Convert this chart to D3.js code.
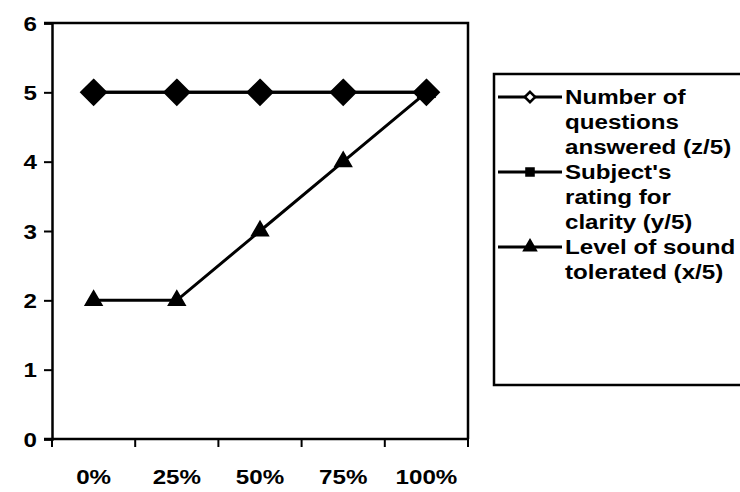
<!DOCTYPE html>
<html>
<head>
<meta charset="utf-8">
<script src="https://cdn.jsdelivr.net/npm/d3@7"></script>
<style>
  html, body { margin: 0; padding: 0; background: #fff; }
  svg text { font-family: "Liberation Sans", Arial, sans-serif; font-weight: bold; fill: #000; }
</style>
</head>
<body>
<svg id="chart" width="740" height="492"></svg>
<script>
// Categories along the x axis
const categories = ["0%", "25%", "50%", "75%", "100%"];
// Series values (scores out of 5)
const questionsAnswered = [5, 5, 5, 5, 5];
const clarityRating = [5, 5, 5, 5, 5];
const soundTolerated = [2, 2, 3, 4, 5];
// Y tick labels
const yTicks = [0, 1, 2, 3, 4, 5, 6];
// Legend labels, one array of wrapped lines per series
const legendLabels = [
  ["Number of", "questions", "answered (z/5)"],
  ["Subject's", "rating for", "clarity (y/5)"],
  ["Level of sound", "tolerated (x/5)"]
];

const FONT = 21;      // text size
const WIDEN = 1.15;   // horizontal stretch of the lettering

const svg = d3.select("#chart");
const plot = { left: 52, right: 468, top: 23, bottom: 439 };

const x = d3.scaleBand().domain(categories).range([plot.left, plot.right]);
const y = d3.scaleLinear().domain([0, 6]).range([plot.bottom, plot.top]);

// Places a stretched text label at (px, py)
function label(sel, px, py, str, anchor) {
  return sel.append("text")
    .attr("transform", `translate(${px},${py}) scale(${WIDEN},1)`)
    .attr("text-anchor", anchor || "start")
    .attr("font-size", FONT)
    .text(str);
}

// Plot area frame (top and right edges)
svg.append("path")
  .attr("d", `M${plot.left - 8},${plot.top}H${plot.right}V${plot.bottom}`)
  .attr("fill", "none").attr("stroke", "#000").attr("stroke-width", 2.5);

// Y axis
const yAxis = svg.append("g")
  .attr("transform", `translate(${plot.left},0)`)
  .call(d3.axisLeft(y).tickValues(yTicks).tickSize(8).tickFormat(""));
yAxis.select(".domain").attr("stroke-width", 2.5);
yAxis.selectAll(".tick line").attr("stroke-width", 2);
yTicks.forEach(t => label(svg, 37, y(t) + FONT * 0.36, d3.format("d")(t), "end"));

// X axis: ticks at band boundaries, labels at band centres
const xAxis = svg.append("g")
  .attr("transform", `translate(0,${plot.bottom})`);
xAxis.append("line")
  .attr("x1", plot.left - 8).attr("x2", plot.right)
  .attr("stroke", "#000").attr("stroke-width", 2.5);
const bounds = categories.map(c => x(c)).concat([x.range()[1]]);
xAxis.selectAll(".xtick").data(bounds).enter().append("line")
  .attr("x1", d => d).attr("x2", d => d)
  .attr("y1", 0).attr("y2", 8)
  .attr("stroke", "#000").attr("stroke-width", 2);
categories.forEach(c => label(svg, x(c) + x.bandwidth() / 2, 484, c, "middle"));

const cx = (d, i) => x(categories[i]) + x.bandwidth() / 2;
const line = d3.line().x((d, i) => cx(d, i)).y(d => y(d));

const diamond = d3.symbol().type(d3.symbolDiamond2).size(400);
const square = d3.symbol().type(d3.symbolSquare).size(120);
const triangle = d3.symbol().type(d3.symbolTriangle).size(110);

function drawSeries(values, sym, fill) {
  svg.append("path").datum(values)
    .attr("d", line).attr("fill", "none")
    .attr("stroke", "#000").attr("stroke-width", 3);
  svg.selectAll(null).data(values).enter().append("path")
    .attr("d", sym)
    .attr("transform", (d, i) => `translate(${cx(d, i)},${y(d)})`)
    .attr("fill", fill).attr("stroke", "#000").attr("stroke-width", 2);
}

drawSeries(soundTolerated, triangle, "#000");
drawSeries(clarityRating, square, "#000");
drawSeries(questionsAnswered, diamond, "#000");

// Legend
const legend = svg.append("g");
legend.append("path")
  .attr("d", "M744,74H494V385H744")
  .attr("fill", "none").attr("stroke", "#000").attr("stroke-width", 2.5);

const legendSymbols = [
  { sym: d3.symbol().type(d3.symbolDiamond2).size(70), fill: "#fff" },
  { sym: d3.symbol().type(d3.symbolSquare).size(50), fill: "#000" },
  { sym: d3.symbol().type(d3.symbolTriangle).size(55), fill: "#000" }
];
const entryTop = [97, 172, 247];
const lineStep = 25;

legendLabels.forEach((lines, k) => {
  const g = legend.append("g").attr("transform", `translate(0,${entryTop[k]})`);
  g.append("line").attr("x1", 498).attr("x2", 562).attr("y1", 0).attr("y2", 0)
    .attr("stroke", "#000").attr("stroke-width", 3);
  g.append("path").attr("d", legendSymbols[k].sym)
    .attr("transform", "translate(530,0)")
    .attr("fill", legendSymbols[k].fill).attr("stroke", "#000").attr("stroke-width", 2.5);
  lines.forEach((str, i) => label(g, 565, i * lineStep + 7, str));
});
</script>
</body>
</html>
